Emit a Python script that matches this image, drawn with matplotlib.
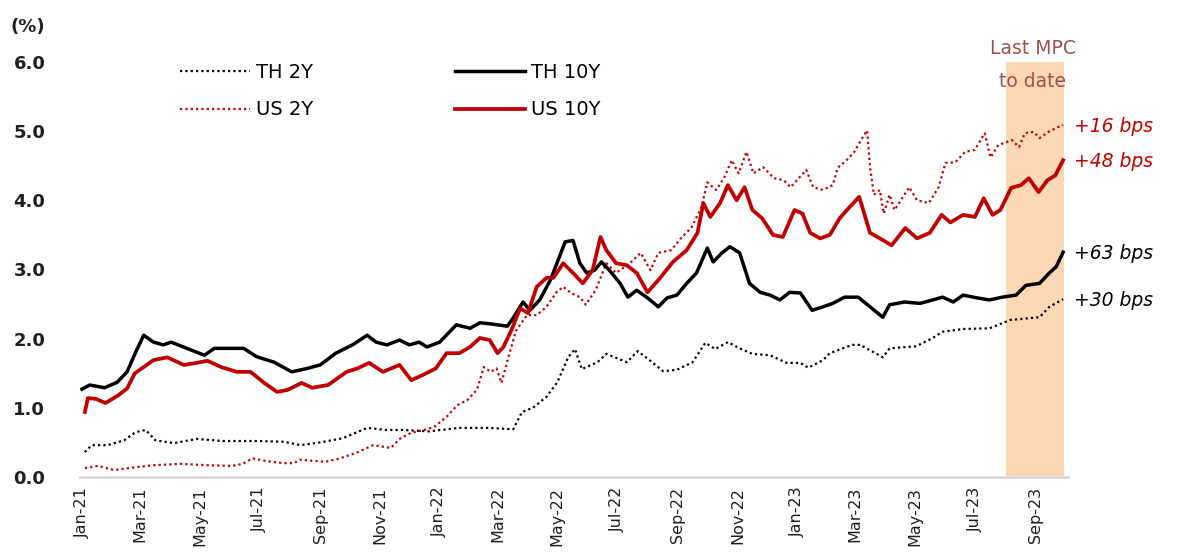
import pandas as pd
import matplotlib
matplotlib.use("Agg")
import matplotlib.pyplot as plt
import matplotlib.dates as mdates
import matplotlib.transforms as mtransforms

# ---- data (% yield) ----
th10_dates = ["2021-01-01", "2021-01-09", "2021-01-24", "2021-02-06", "2021-02-16", "2021-02-25",
              "2021-03-05", "2021-03-15", "2021-03-25", "2021-04-02", "2021-04-18", "2021-05-06",
              "2021-05-16", "2021-05-29", "2021-06-15", "2021-06-28", "2021-07-16", "2021-08-03",
              "2021-08-19", "2021-09-01", "2021-09-17", "2021-10-04", "2021-10-19", "2021-10-28",
              "2021-11-08", "2021-11-21", "2021-12-01", "2021-12-11", "2021-12-19", "2022-01-01",
              "2022-01-18", "2022-02-01", "2022-02-11", "2022-02-24", "2022-03-11", "2022-03-17",
              "2022-03-27", "2022-04-03", "2022-04-13", "2022-04-24", "2022-05-09", "2022-05-17",
              "2022-05-24", "2022-05-31", "2022-06-08", "2022-06-15", "2022-06-23", "2022-07-04",
              "2022-07-12", "2022-07-21", "2022-08-01", "2022-08-12", "2022-08-21", "2022-08-31",
              "2022-09-10", "2022-09-20", "2022-10-01", "2022-10-07", "2022-10-16", "2022-10-24",
              "2022-11-03", "2022-11-13", "2022-11-24", "2022-12-04", "2022-12-14", "2022-12-24",
              "2023-01-04", "2023-01-16", "2023-01-27", "2023-02-06", "2023-02-18", "2023-03-04",
              "2023-03-16", "2023-03-29", "2023-04-05", "2023-04-20", "2023-05-06", "2023-05-19",
              "2023-05-29", "2023-06-09", "2023-06-19", "2023-07-03", "2023-07-16", "2023-07-29",
              "2023-08-12", "2023-08-22", "2023-09-05", "2023-09-15", "2023-09-22", "2023-09-29"]
th10 = [1.27, 1.33, 1.29, 1.37, 1.52, 1.81, 2.05, 1.95, 1.91, 1.95, 1.86, 1.76,
        1.86, 1.86, 1.86, 1.74, 1.66, 1.52, 1.57, 1.62, 1.79, 1.91, 2.05, 1.95,
        1.91, 1.98, 1.91, 1.95, 1.88, 1.95, 2.20, 2.15, 2.23, 2.21, 2.18, 2.30,
        2.53, 2.41, 2.56, 2.85, 3.40, 3.42, 3.09, 2.95, 2.99, 3.11, 2.99, 2.80,
        2.60, 2.70, 2.59, 2.46, 2.59, 2.63, 2.80, 2.95, 3.31, 3.11, 3.24, 3.33,
        3.24, 2.80, 2.67, 2.63, 2.56, 2.67, 2.66, 2.41, 2.46, 2.51, 2.60, 2.60,
        2.46, 2.31, 2.49, 2.53, 2.51, 2.56, 2.60, 2.53, 2.63, 2.59, 2.56, 2.60,
        2.63, 2.77, 2.80, 2.95, 3.04, 3.25]

th2_dates = ["2021-01-04", "2021-01-11", "2021-01-27", "2021-02-13", "2021-02-25", "2021-03-07",
             "2021-03-17", "2021-04-05", "2021-04-28", "2021-05-25", "2021-06-28", "2021-07-26",
             "2021-08-12", "2021-09-01", "2021-09-24", "2021-10-19", "2021-11-07", "2021-11-24",
             "2021-12-21", "2022-01-21", "2022-02-20", "2022-03-17", "2022-03-26", "2022-04-06",
             "2022-04-20", "2022-05-01", "2022-05-12", "2022-05-19", "2022-05-26", "2022-06-11",
             "2022-06-20", "2022-07-11", "2022-07-22", "2022-08-03", "2022-08-17", "2022-08-31",
             "2022-09-16", "2022-09-29", "2022-10-09", "2022-10-22", "2022-11-03", "2022-11-16",
             "2022-12-04", "2022-12-21", "2023-01-04", "2023-01-12", "2023-01-27", "2023-02-03",
             "2023-02-26", "2023-03-06", "2023-03-19", "2023-03-29", "2023-04-05", "2023-05-02",
             "2023-05-19", "2023-05-29", "2023-06-19", "2023-07-16", "2023-08-06", "2023-09-05",
             "2023-09-15", "2023-09-29"]
th2 = [0.36, 0.46, 0.46, 0.53, 0.65, 0.68, 0.53, 0.49, 0.55, 0.52, 0.52, 0.51,
       0.46, 0.50, 0.56, 0.71, 0.68, 0.68, 0.66, 0.71, 0.71, 0.69, 0.94, 1.00,
       1.16, 1.37, 1.73, 1.85, 1.56, 1.66, 1.78, 1.66, 1.82, 1.69, 1.53, 1.55,
       1.66, 1.94, 1.85, 1.95, 1.86, 1.78, 1.76, 1.65, 1.65, 1.58, 1.69, 1.79,
       1.91, 1.91, 1.81, 1.73, 1.86, 1.89, 2.01, 2.10, 2.14, 2.15, 2.27, 2.31,
       2.46, 2.57]

us10_dates = ["2021-01-04", "2021-01-07", "2021-01-15", "2021-01-25", "2021-02-07", "2021-02-16",
              "2021-02-24", "2021-03-05", "2021-03-15", "2021-03-29", "2021-04-15", "2021-04-28",
              "2021-05-09", "2021-05-23", "2021-06-08", "2021-06-22", "2021-07-06", "2021-07-19",
              "2021-07-30", "2021-08-13", "2021-08-24", "2021-09-09", "2021-09-28", "2021-10-09",
              "2021-10-21", "2021-11-04", "2021-11-21", "2021-12-03", "2021-12-14", "2021-12-28",
              "2022-01-08", "2022-01-21", "2022-02-01", "2022-02-11", "2022-02-21", "2022-03-01",
              "2022-03-07", "2022-03-16", "2022-03-24", "2022-04-01", "2022-04-10", "2022-04-20",
              "2022-04-27", "2022-05-07", "2022-05-17", "2022-05-27", "2022-06-06", "2022-06-14",
              "2022-06-20", "2022-06-30", "2022-07-11", "2022-07-21", "2022-08-01", "2022-08-14",
              "2022-08-27", "2022-09-10", "2022-09-21", "2022-09-27", "2022-10-04", "2022-10-14",
              "2022-10-22", "2022-10-31", "2022-11-08", "2022-11-16", "2022-11-26", "2022-12-07",
              "2022-12-17", "2022-12-29", "2023-01-06", "2023-01-14", "2023-01-24", "2023-02-03",
              "2023-02-13", "2023-02-23", "2023-03-05", "2023-03-16", "2023-03-26", "2023-04-07",
              "2023-04-21", "2023-05-03", "2023-05-16", "2023-05-28", "2023-06-06", "2023-06-19",
              "2023-07-01", "2023-07-10", "2023-07-19", "2023-07-27", "2023-08-07", "2023-08-17",
              "2023-08-25", "2023-09-04", "2023-09-13", "2023-09-21", "2023-09-29"]
us10 = [0.94, 1.14, 1.13, 1.07, 1.18, 1.28, 1.50, 1.59, 1.69, 1.73, 1.62, 1.65,
        1.68, 1.59, 1.52, 1.52, 1.36, 1.23, 1.26, 1.36, 1.29, 1.33, 1.52, 1.57,
        1.65, 1.52, 1.62, 1.40, 1.47, 1.57, 1.79, 1.79, 1.88, 2.01, 1.98, 1.79,
        1.88, 2.15, 2.44, 2.37, 2.75, 2.88, 2.88, 3.09, 2.95, 2.80, 2.99, 3.47,
        3.28, 3.09, 3.06, 2.95, 2.67, 2.88, 3.11, 3.28, 3.53, 3.96, 3.76, 3.96,
        4.22, 4.00, 4.19, 3.86, 3.74, 3.50, 3.47, 3.86, 3.81, 3.53, 3.45, 3.50,
        3.74, 3.90, 4.05, 3.53, 3.45, 3.35, 3.60, 3.45, 3.53, 3.79, 3.68, 3.79,
        3.76, 4.03, 3.79, 3.86, 4.18, 4.22, 4.32, 4.12, 4.29, 4.36, 4.58]

us2_dates = ["2021-01-04", "2021-01-17", "2021-02-03", "2021-02-24", "2021-03-15", "2021-04-12",
             "2021-05-09", "2021-06-03", "2021-06-14", "2021-06-24", "2021-07-08", "2021-07-26",
             "2021-08-05", "2021-08-11", "2021-09-06", "2021-09-19", "2021-10-08", "2021-10-25",
             "2021-11-12", "2021-11-22", "2021-12-03", "2021-12-16", "2021-12-26", "2022-01-08",
             "2022-01-19", "2022-01-29", "2022-02-08", "2022-02-15", "2022-02-22", "2022-02-28",
             "2022-03-05", "2022-03-12", "2022-03-20", "2022-03-31", "2022-04-10", "2022-04-20",
             "2022-04-30", "2022-05-07", "2022-05-15", "2022-05-24", "2022-05-30", "2022-06-09",
             "2022-06-20", "2022-06-30", "2022-07-14", "2022-07-25", "2022-08-04", "2022-08-12",
             "2022-08-25", "2022-09-04", "2022-09-15", "2022-09-25", "2022-10-01", "2022-10-10",
             "2022-10-18", "2022-10-26", "2022-11-02", "2022-11-10", "2022-11-17", "2022-11-27",
             "2022-12-08", "2022-12-18", "2022-12-25", "2023-01-10", "2023-01-17", "2023-01-27",
             "2023-02-06", "2023-02-11", "2023-02-20", "2023-02-28", "2023-03-08", "2023-03-13",
             "2023-03-16", "2023-03-20", "2023-03-26", "2023-03-30", "2023-04-05", "2023-04-10",
             "2023-04-25", "2023-05-03", "2023-05-15", "2023-05-25", "2023-06-01", "2023-06-11",
             "2023-06-21", "2023-07-01", "2023-07-11", "2023-07-17", "2023-07-25", "2023-08-08",
             "2023-08-15", "2023-08-21", "2023-08-30", "2023-09-05", "2023-09-14", "2023-09-24",
             "2023-09-29"]
us2 = [0.13, 0.16, 0.10, 0.14, 0.17, 0.19, 0.17, 0.16, 0.19, 0.27, 0.23, 0.20,
       0.20, 0.25, 0.22, 0.26, 0.35, 0.46, 0.42, 0.56, 0.64, 0.68, 0.72, 0.87,
       1.04, 1.11, 1.26, 1.59, 1.52, 1.57, 1.36, 1.73, 2.12, 2.34, 2.34, 2.46,
       2.67, 2.75, 2.66, 2.60, 2.49, 2.70, 3.09, 2.95, 3.09, 3.24, 2.99, 3.24,
       3.28, 3.45, 3.61, 3.90, 4.26, 4.15, 4.32, 4.58, 4.39, 4.70, 4.39, 4.48,
       4.32, 4.29, 4.19, 4.44, 4.19, 4.15, 4.22, 4.47, 4.58, 4.70, 4.90, 5.01,
       4.48, 4.08, 4.15, 3.81, 4.08, 3.86, 4.19, 4.00, 3.96, 4.19, 4.54, 4.55,
       4.70, 4.73, 4.97, 4.62, 4.80, 4.87, 4.77, 4.97, 4.99, 4.90, 4.99, 5.06,
       5.09]

mpc_start = "2023-08-02"
mpc_end = "2023-09-30"
bps_labels = ["+16 bps", "+48 bps", "+63 bps", "+30 bps"]
bps_values = [5.09, 4.58, 3.25, 2.57]
bps_colors = ["#C00000", "#C00000", "black", "black"]

RED = "#C00000"
TXT = "#1F1F1F"
plt.rcParams['font.family'] = ['DejaVu Sans']

fig = plt.figure(figsize=(11.85, 5.52), dpi=100)
ax = fig.add_axes([80 / 1185, 1 - 477 / 552, 988 / 1185, 415 / 552])

ax.axvspan(pd.Timestamp(mpc_start), pd.Timestamp(mpc_end), ymin=0, ymax=1,
           color="#FDD8B5", lw=0, zorder=0)

dot = (0, (1, 1.4))
l1, = ax.plot(pd.to_datetime(th2_dates), th2, color="black", lw=1.6, ls=dot, label="TH 2Y")
l3, = ax.plot(pd.to_datetime(us2_dates), us2, color=RED, lw=1.6, ls=dot, label="US 2Y")
l2, = ax.plot(pd.to_datetime(th10_dates), th10, color="black", lw=2.5, label="TH 10Y")
l4, = ax.plot(pd.to_datetime(us10_dates), us10, color=RED, lw=2.7, label="US 10Y")

ax.set_xlim(pd.Timestamp("2020-12-30"), pd.Timestamp("2023-10-04"))
ax.set_ylim(0, 6)
ax.set_yticks([0, 1, 2, 3, 4, 5, 6])
ax.set_yticklabels(["%.1f" % v for v in [0, 1, 2, 3, 4, 5, 6]], fontsize=13,
                   fontweight="bold", color=TXT)
ax.xaxis.set_major_locator(mdates.MonthLocator(bymonth=[1, 3, 5, 7, 9, 11]))
ax.xaxis.set_major_formatter(mdates.DateFormatter("%b-%y"))
shift = mtransforms.ScaledTranslation(5 / 100, 0, fig.dpi_scale_trans)
for lab in ax.get_xticklabels():
    lab.set_rotation(90)
    lab.set_fontsize(11.5)
    lab.set_color(TXT)
    lab.set_transform(lab.get_transform() + shift)
ax.tick_params(axis="y", length=0, pad=25)
ax.tick_params(axis="x", length=0, pad=7)

for s in ["top", "right", "left"]:
    ax.spines[s].set_visible(False)
ax.spines["bottom"].set_color("#D9D9D9")
ax.spines["bottom"].set_linewidth(2)

fig.text(10 / 1185, 1 - 27 / 552, "(%)", fontsize=13, fontweight="bold",
         color=TXT, va="center", ha="left")

fig.legend(handles=[l1, l3, l2, l4], loc="upper left",
           bbox_to_anchor=(180 / 1185, 1 - 63 / 552), ncol=2, frameon=False,
           fontsize=14, handlelength=3.6, handletextpad=0.3,
           columnspacing=7.3, labelspacing=0.95, borderpad=0, borderaxespad=0)

ax.text(pd.Timestamp("2023-08-29"), 6.2, "Last MPC", ha="center", va="center",
        fontsize=13.5, color="#A0504E", clip_on=False)
ax.text(pd.Timestamp("2023-08-29"), 5.72, "to date", ha="center", va="center",
        fontsize=13.5, color="#A0504E", clip_on=False)

for lab, v, c in zip(bps_labels, bps_values, bps_colors):
    ax.annotate(lab, xy=(pd.Timestamp("2023-09-29"), v), xytext=(8, -1),
                textcoords="offset points", fontsize=13.5, style="italic",
                color=c, va="center", ha="left", annotation_clip=False)

fig.savefig("out.png", dpi=100)
